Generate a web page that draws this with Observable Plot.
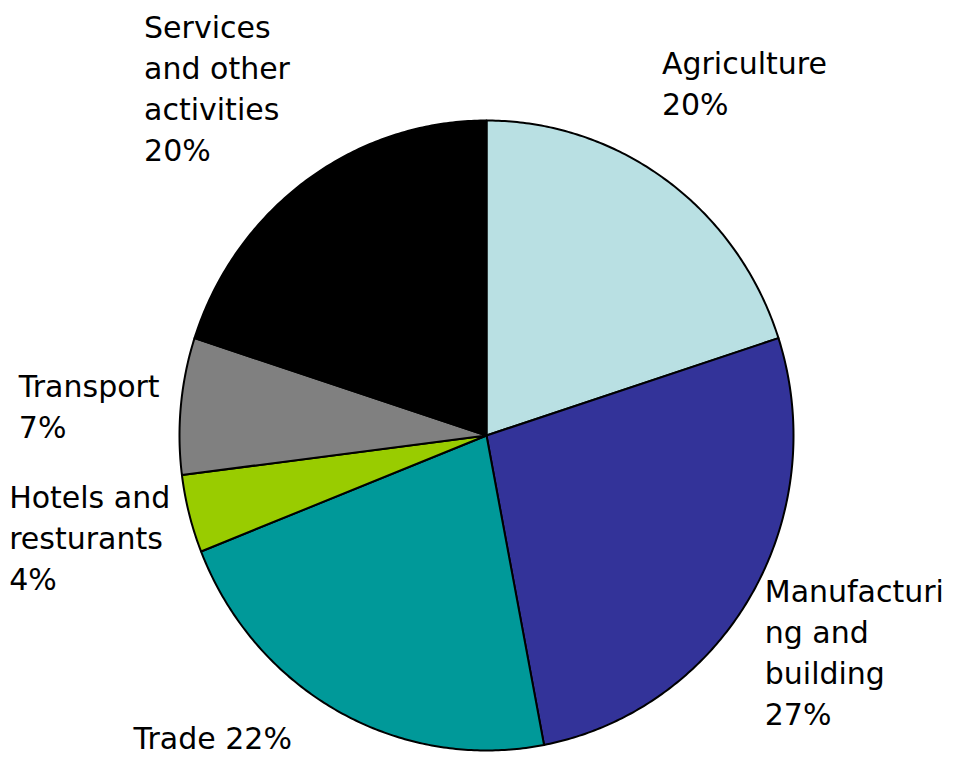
<!DOCTYPE html>
<html>
<head>
<meta charset="utf-8">
<script src="https://cdn.jsdelivr.net/npm/d3@7"></script>
<script src="https://cdn.jsdelivr.net/npm/@observablehq/plot@0.6"></script>
<style>
  html, body { margin: 0; padding: 0; background: #fff; }
  #chart svg { display: block; }
</style>
</head>
<body>
<div id="chart"></div>
<script>
// ---- data ----
const sectors = ["Agriculture", "Manufacturing and building", "Trade", "Hotels and resturants", "Transport", "Services and other activities"];
const shares = [20, 27, 22, 4, 7, 20];
const labels = ["Agriculture\n20%", "Manufacturi\nng and\nbuilding\n27%", "Trade 22%", "Hotels and\nresturants\n4%", "Transport\n7%", "Services\nand other\nactivities\n20%"];
const colors = ["#B9E0E3", "#333399", "#009999", "#99CC00", "#808080", "#000000"];

// ---- layout ----
const W = 953, H = 757;
const cx = 486, cy = 435, rx = 307, ry = 315;
// label offsets (px) from each slice's outer mid-point
const labelNudge = [[-5, -136], [14, -23], [-205, 8], [-180, -35], [-162, -38], [-162, -172]];

const pie = d3.pie().sort(null).value(d => d.share);
const arcs = pie(sectors.map((s, i) => ({sector: s, share: shares[i], label: labels[i]})));

const pts = [];
arcs.forEach(a => {
  pts.push({sector: a.data.sector, x: 0, y: 0});
  const n = Math.max(4, Math.ceil((a.endAngle - a.startAngle) / 0.01));
  for (let k = 0; k <= n; k++) {
    const t = a.startAngle + (a.endAngle - a.startAngle) * k / n;
    pts.push({sector: a.data.sector, x: Math.sin(t), y: Math.cos(t)});
  }
  pts.push({sector: a.data.sector, x: 0, y: 0});
});

const labelData = arcs.map((a, i) => {
  const m = (a.startAngle + a.endAngle) / 2;
  return {label: a.data.label, x: Math.sin(m), y: Math.cos(m), dx: labelNudge[i][0], dy: labelNudge[i][1]};
});

const chart = Plot.plot({
  width: W,
  height: H,
  margin: 0,
  x: {domain: [-cx / rx, (W - cx) / rx], axis: null},
  y: {domain: [-(H - cy) / ry, cy / ry], axis: null},
  color: {domain: sectors, range: colors},
  marks: [
    Plot.line(pts, {x: "x", y: "y", z: "sector", fill: "sector", stroke: "#000", strokeWidth: 2, strokeLinejoin: "round"}),
    ...labelData.map(d => Plot.text([d], {
      x: "x", y: "y", text: "label", dx: d.dx, dy: d.dy,
      textAnchor: "start", lineAnchor: "top", lineHeight: 1.37,
      fontSize: 30, fill: "#000", fontFamily: "DejaVu Sans"
    }))
  ]
});
document.getElementById("chart").append(chart);
</script>
</body>
</html>
